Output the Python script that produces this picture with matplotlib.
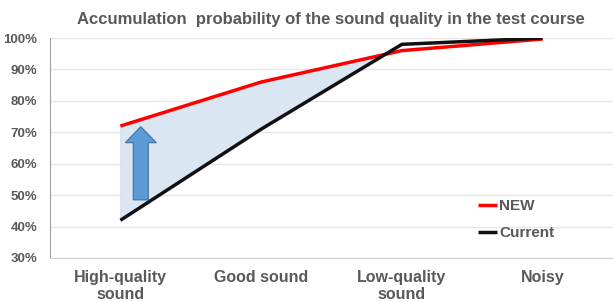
import matplotlib
matplotlib.use("Agg")
import matplotlib.pyplot as plt
import numpy as np
from matplotlib.patches import FancyArrow

plt.rcParams["font.family"] = ["Liberation Sans", "DejaVu Sans"]

categories = ["High-quality\nsound", "Good sound", "Low-quality\nsound", "Noisy"]
new_vals = [72, 86, 96, 99.7]
current_vals = [42, 71, 98, 100]
yticks = [30, 40, 50, 60, 70, 80, 90, 100]

fig = plt.figure(figsize=(6.13, 3.02), dpi=100)
ax = fig.add_axes([0.0816, 0.1457, 0.9184, 0.7283])
x = np.arange(len(categories))

ax.fill_between(x, new_vals, current_vals, where=np.array(new_vals) >= np.array(current_vals),
                interpolate=True, color="#dae7f3", edgecolor="#c3d7ec", linewidth=0.6, zorder=1)

ax.plot(x, new_vals, color="#ff0000", lw=2.5, label="NEW", zorder=3, solid_capstyle="butt")
ax.plot(x, current_vals, color="#111111", lw=2.5, label="Current", zorder=3, solid_capstyle="butt")

arrow = FancyArrow(0.145, 48.5, 0, 23.3, width=0.107, head_width=0.22, head_length=5.1,
                   length_includes_head=True, facecolor="#5b9bd5", edgecolor="#41719c", lw=0.8, zorder=4)
ax.add_patch(arrow)

ax.set_xlim(-0.5, 3.5)
ax.set_ylim(30, 100)
ax.set_yticks(yticks)
ax.set_yticklabels([f"{v}%" for v in yticks])
ax.set_xticks(x)
ax.set_xticklabels(categories, linespacing=1.12)
ax.yaxis.grid(True, color="#e6e6e6", lw=1)
ax.set_axisbelow(True)
for s in ["top", "right"]:
    ax.spines[s].set_visible(False)
ax.spines["left"].set_color("#a0a0a0")
ax.spines["bottom"].set_color("#d0d0d0")
ax.axhline(100, color="#b0b0b0", lw=1.2, zorder=0)
ax.tick_params(length=0, colors="#595959", pad=9)
for lbl in ax.get_xticklabels():
    lbl.set_fontweight("bold"); lbl.set_fontsize(11.5); lbl.set_color("#595959")
for lbl in ax.get_yticklabels():
    lbl.set_fontweight("bold"); lbl.set_fontsize(9.5); lbl.set_color("#595959")
ax.tick_params(axis="x", pad=9)

leg = ax.legend(loc="upper left", bbox_to_anchor=(0.735, 0.33), frameon=False,
                handlelength=1.3, handletextpad=0.1, labelspacing=0.85,
                prop={"weight": "bold", "size": 11})
for t in leg.get_texts():
    t.set_color("#595959")

fig.text(0.54, 0.935, "Accumulation  probability of the sound quality in the test course",
         ha="center", va="center", fontsize=12, fontweight="bold", color="#595959")

fig.savefig("out.png", dpi=100)
